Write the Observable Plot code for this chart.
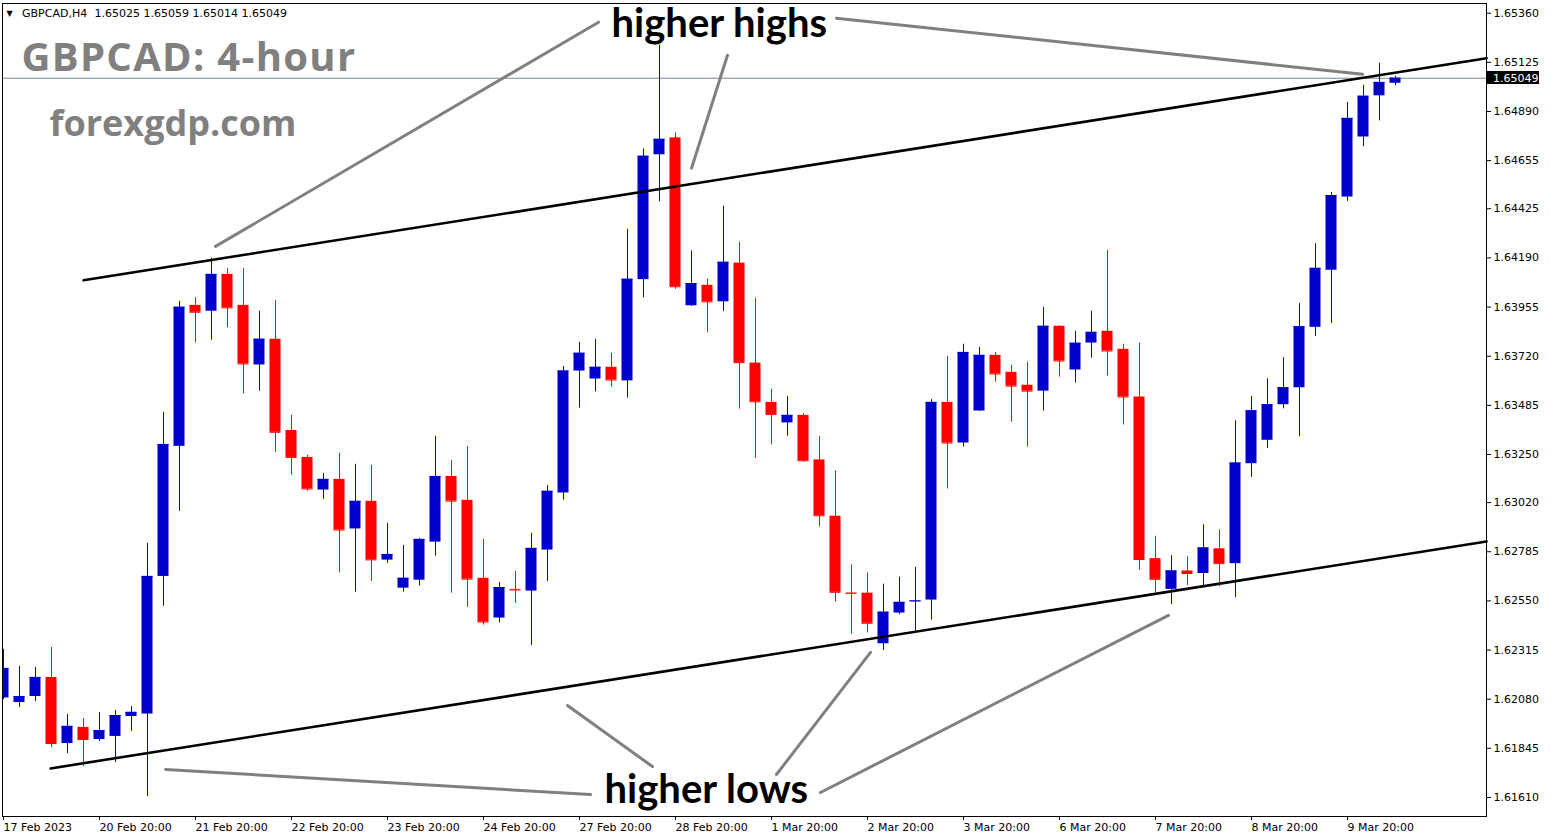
<!DOCTYPE html>
<html><head><meta charset="utf-8">
<script src="https://cdn.jsdelivr.net/npm/d3@7"></script>
<script src="https://cdn.jsdelivr.net/npm/@observablehq/plot@0.6"></script>
<style>
html,body{margin:0;padding:0;background:#fff;}
#chart svg{display:block;}
</style></head><body><div id="chart"></div>
<script>
const symbol = "GBPCAD,H4";
const title = "GBPCAD: 4-hour";
const site = "forexgdp.com";

const open = [
1.62086,1.62064,1.62093,1.62184,1.61868,1.61945,1.61887,1.61902,1.61997,1.62009,
1.62667,1.63289,1.63963,1.63935,1.64111,1.63963,1.63678,1.63801,1.63365,1.63236,
1.63080,1.63131,1.62894,1.63026,1.62745,1.62611,1.62649,1.62831,1.63145,1.63031,
1.62658,1.62468,1.62605,1.62597,1.62793,1.63066,1.63649,1.63611,1.63667,1.63602,
1.64086,1.64683,1.64764,1.63961,1.64059,1.63980,1.64165,1.63687,1.63499,1.63401,
1.63437,1.63224,1.62955,1.62588,1.62587,1.62345,1.62492,1.62546,1.62554,1.63499,
1.63305,1.63458,1.63724,1.63643,1.63581,1.63553,1.63863,1.63654,1.63783,1.63839,
1.63753,1.63525,1.62752,1.62605,1.62693,1.62681,1.62799,1.62728,1.63206,1.63318,
1.63488,1.63569,1.63858,1.64131,1.64481,1.64768,1.64965,1.65025];
const high = [
1.62318,1.62237,1.62232,1.62327,1.62007,1.61988,1.62017,1.62026,1.62045,1.62825,
1.63452,1.63982,1.63999,1.64188,1.64140,1.64140,1.63935,1.63987,1.63437,1.63246,
1.63160,1.63255,1.63203,1.63198,1.62921,1.62815,1.62849,1.63337,1.63222,1.63289,
1.62844,1.62638,1.62691,1.62873,1.63102,1.63671,1.63786,1.63801,1.63734,1.64327,
1.64711,1.65207,1.64787,1.64223,1.64088,1.64437,1.64265,1.63997,1.63561,1.63528,
1.63445,1.63337,1.63171,1.62721,1.62683,1.62630,1.62664,1.62710,1.63512,1.63719,
1.63777,1.63762,1.63738,1.63676,1.63691,1.63954,1.63865,1.63839,1.63935,1.64226,
1.63777,1.63782,1.62859,1.62766,1.62761,1.62914,1.62889,1.63411,1.63527,1.63612,
1.63713,1.63971,1.64258,1.64503,1.64933,1.65015,1.65121,1.65059];
const low = [
1.62079,1.62040,1.62069,1.61849,1.61820,1.61758,1.61878,1.61777,1.61926,1.61615,
1.62524,1.62978,1.63784,1.63796,1.63856,1.63540,1.63553,1.63260,1.63152,1.63075,
1.63035,1.62684,1.62592,1.62643,1.62729,1.62592,1.62621,1.62764,1.62587,1.62520,
1.62434,1.62444,1.62539,1.62337,1.62643,1.63032,1.63472,1.63549,1.63573,1.63520,
1.63999,1.64458,1.64040,1.63958,1.63832,1.63933,1.63467,1.63231,1.63296,1.63337,
1.63214,1.62904,1.62545,1.62390,1.62397,1.62313,1.62484,1.62405,1.62458,1.63085,
1.63286,1.63456,1.63596,1.63405,1.63286,1.63458,1.63620,1.63592,1.63711,1.63625,
1.63391,1.62696,1.62591,1.62533,1.62624,1.62618,1.62618,1.62565,1.63141,1.63279,
1.63468,1.63335,1.63814,1.63876,1.64460,1.64722,1.64845,1.65014];
const close = [
1.62227,1.62093,1.62184,1.61868,1.61950,1.61887,1.61930,1.62002,1.62017,1.62667,
1.63298,1.63954,1.63930,1.64111,1.63951,1.63683,1.63801,1.63356,1.63236,1.63085,
1.63131,1.62889,1.63026,1.62746,1.62772,1.62658,1.62844,1.63145,1.63027,1.62654,
1.62449,1.62614,1.62602,1.62801,1.63074,1.63649,1.63734,1.63667,1.63606,1.64088,
1.64676,1.64757,1.64052,1.64067,1.63980,1.64169,1.63689,1.63502,1.63441,1.63437,
1.63220,1.62957,1.62591,1.62586,1.62443,1.62496,1.62543,1.62550,1.63499,1.63305,
1.63738,1.63724,1.63635,1.63577,1.63553,1.63863,1.63697,1.63782,1.63834,1.63745,
1.63525,1.62748,1.62653,1.62693,1.62681,1.62803,1.62728,1.63209,1.63459,1.63488,
1.63569,1.63861,1.64140,1.64488,1.64857,1.64963,1.65029,1.65049];

const timeLabels = ["17 Feb 2023","20 Feb 20:00","21 Feb 20:00","22 Feb 20:00","23 Feb 20:00",
"24 Feb 20:00","27 Feb 20:00","28 Feb 20:00","1 Mar 20:00","2 Mar 20:00","3 Mar 20:00",
"6 Mar 20:00","7 Mar 20:00","8 Mar 20:00","9 Mar 20:00"];
const timeTickBars = [0,6,12,18,24,30,36,42,48,54,60,66,72,78,84];
const priceTicks = [1.61610,1.61845,1.62080,1.62315,1.62550,1.62785,1.63020,1.63250,1.63485,
1.63720,1.63955,1.64190,1.64425,1.64655,1.64890,1.65125,1.65360];

// channel lines: [bar index, price]
const upperChannel = [[5.0,1.64083],[92.69,1.65145]];
const lowerChannel = [[2.94,1.61749],[92.69,1.62834]];
// annotation pointer lines
const pointerLines = [
  [[13.25,1.64245],[37.19,1.65317]],
  [[43.0,1.64619],[45.25,1.65159]],
  [[52.06,1.65336],[84.94,1.65068]],
  [[10.13,1.61744],[36.69,1.61624]],
  [[35.25,1.62050],[40.56,1.61758]],
  [[54.19,1.62304],[48.31,1.61720]],
  [[72.81,1.62481],[51.06,1.61634]]
];
const labels = [
  {text:"higher highs", dx:609, dy:5},
  {text:"higher lows", dx:602, dy:771}
];

const last = open.length - 1;
const lastPrice = close[last];
const candles = open.map((o,i)=>({i, open:o, high:high[i], low:low[i], close:close[i], up: close[i] >= o}));
const BLUE = "#0000cd", RED = "#ff0000";
const hw = 5.5/16;
const col = d => d.up ? BLUE : RED;

const pointerData = pointerLines.flatMap((seg,k)=>seg.map(([i,p])=>({k,i,p})));

const priceBox = (index, scales, values, dimensions) => {
  const y = Math.round(scales.y(lastPrice));
  const x0 = dimensions.width - dimensions.marginRight + 1;
  const g = d3.create("svg:g");
  g.append("rect").attr("x", x0).attr("y", y-7).attr("width", 52).attr("height", 13).attr("fill", "black");
  g.append("text").attr("x", x0+6).attr("y", y).attr("dy","0.32em").attr("fill","white")
    .attr("text-anchor","start").attr("font-family","DejaVu Sans").attr("font-size", 11).text(lastPrice.toFixed(5));
  return g.node();
};

const chart = Plot.plot({
  width: 1550, height: 840,
  marginLeft: 2, marginRight: 64, marginTop: 3, marginBottom: 24,
  style: {fontFamily: "DejaVu Sans", fontSize: "11px", background: "#fff", color: "black", overflow: "visible"},
  x: {domain: [-0.0625, 92.6875]},
  y: {domain: [1.615191, 1.654064]},
  color: {type: "identity"},
  marks: [
    Plot.ruleY([lastPrice], {stroke: "#778899", strokeWidth: 1}),
    Plot.ruleX(candles, {x: "i", y1: "low", y2: "high", stroke: col, strokeWidth: 1, clip: true}),
    Plot.rect(candles, {x1: d=>d.i-hw, x2: d=>d.i+hw, y1: "open", y2: "close", fill: col, clip: true}),
    Plot.ruleY(candles, {x1: d=>d.i-hw, x2: d=>d.i+hw, y: "close", stroke: col, strokeWidth: 1, clip: true}),
    Plot.line(upperChannel, {x: d=>d[0], y: d=>d[1], stroke: "black", strokeWidth: 2.6}),
    Plot.line(lowerChannel, {x: d=>d[0], y: d=>d[1], stroke: "black", strokeWidth: 2.6}),
    Plot.line(pointerData, {x: "i", y: "p", z: "k", stroke: "#808080", strokeWidth: 3}),
    Plot.frame({stroke: "black", strokeWidth: 1}),
    Plot.axisY({anchor: "right", ticks: priceTicks, tickFormat: d=>d.toFixed(5), tickSize: 4, tickPadding: 3, label: null, fontSize: 11}),
    Plot.axisX({ticks: timeTickBars, tickFormat: (d)=>timeLabels[timeTickBars.indexOf(d)], tickSize: 4, tickPadding: 3, textAnchor: "start", dx: 0, label: null, fontSize: 11}),
    Plot.text(["▼"], {text: d=>d, frameAnchor: "top-left", dx: 4, dy: 7, lineAnchor: "top", textAnchor: "start", fontSize: 8, fill: "black"}),
    Plot.text([symbol], {text: d=>d, frameAnchor: "top-left", dx: 19.5, dy: 6, lineAnchor: "top", textAnchor: "start", fontSize: 11, fill: "black"}),
    Plot.text([[open[last],high[last],low[last],close[last]].map(v=>v.toFixed(5)).join(" ")], {text: d=>d, frameAnchor: "top-left", dx: 92, dy: 6, lineAnchor: "top", textAnchor: "start", fontSize: 11, fill: "black"}),
    Plot.text([title], {text: d=>d, frameAnchor: "top-left", dx: 19, dy: 39, lineAnchor: "top", textAnchor: "start", fontSize: 40, fontWeight: "bold", fontFamily: "Open Sans", fill: "#808080"}),
    Plot.text([site], {text: d=>d, frameAnchor: "top-left", dx: 47, dy: 107, lineAnchor: "top", textAnchor: "start", fontSize: 36, fontWeight: "bold", fontFamily: "Open Sans", fill: "#808080"}),
    Plot.text(labels, {text: "text", frameAnchor: "top-left", dx: labels[0].dx, dy: labels[0].dy, lineAnchor: "top", textAnchor: "start", fontSize: 40, fontWeight: "bold", fontFamily: "Lato", fill: "black", filter: (d,k)=>k===0}),
    Plot.text(labels, {text: "text", frameAnchor: "top-left", dx: labels[1].dx, dy: labels[1].dy, lineAnchor: "top", textAnchor: "start", fontSize: 40, fontWeight: "bold", fontFamily: "Lato", fill: "black", filter: (d,k)=>k===1}),
    priceBox
  ]
});
d3.select(chart).selectAll("text").filter(function(){ return this.textContent === title; })
  .style("letter-spacing", "1.3px");
document.getElementById("chart").append(chart);
</script></body></html>
